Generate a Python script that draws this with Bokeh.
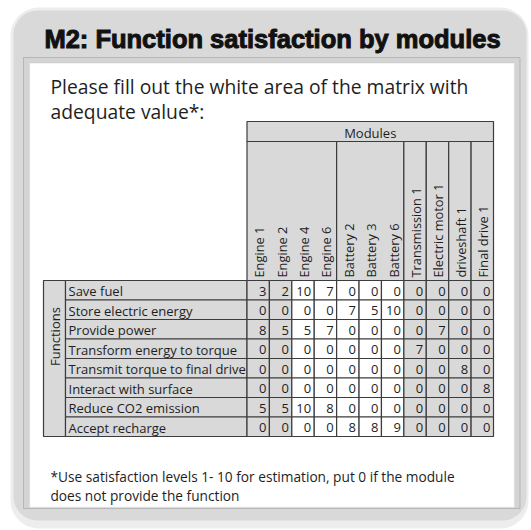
import math
from bokeh.plotting import figure
from bokeh.models import Range1d, BoxAnnotation, ColumnDataSource
from bokeh.core.properties import value
from bokeh.embed import file_html
from bokeh.resources import INLINE

# ---------------- data ----------------
title = "M2: Function satisfaction by modules"
intro_lines = ["Please fill out the white area of the matrix with", "adequate value*:"]
footnote_lines = ["*Use satisfaction levels 1- 10 for estimation, put 0 if the module",
                  "does not provide the function"]
col_group_title = "Modules"
row_group_title = "Functions"

modules = ["Engine 1", "Engine 2", "Engine 4", "Engine 6", "Battery 2", "Battery 3",
           "Battery 6", "Transmission 1", "Electric motor 1", "driveshaft 1", "Final drive 1"]
module_group_spans = [4, 3, 1, 1, 1, 1]
white_modules = ["Engine 4", "Engine 6", "Battery 2", "Battery 3", "Battery 6"]

functions = ["Save fuel", "Store electric energy", "Provide power", "Transform energy to torque",
             "Transmit torque to final drive", "Interact with surface", "Reduce CO2 emission",
             "Accept recharge"]

save_fuel = [3, 2, 10, 7, 0, 0, 0, 0, 0, 0, 0]
store_electric_energy = [0, 0, 0, 0, 7, 5, 10, 0, 0, 0, 0]
provide_power = [8, 5, 5, 7, 0, 0, 0, 0, 7, 0, 0]
transform_energy_to_torque = [0, 0, 0, 0, 0, 0, 0, 7, 0, 0, 0]
transmit_torque = [0, 0, 0, 0, 0, 0, 0, 0, 0, 8, 0]
interact_with_surface = [0, 0, 0, 0, 0, 0, 0, 0, 0, 0, 8]
reduce_co2 = [5, 5, 10, 8, 0, 0, 0, 0, 0, 0, 0]
accept_recharge = [0, 0, 0, 0, 8, 8, 9, 0, 0, 0, 0]
matrix = [save_fuel, store_electric_energy, provide_power, transform_energy_to_torque,
          transmit_torque, interact_with_surface, reduce_co2, accept_recharge]

# ---------------- layout (page pixel coordinates) ----------------
FONT = value("Open Sans")
GRAY = "#d9d9d9"
EDGE = "#3c3c3c"
TXT = "#1e1e1e"
FX0, FX1 = 43, 65          # "Functions" column
LX1 = 246.5                # end of label column
DX1 = 493                  # end of data columns
CW = (DX1 - LX1) / len(modules)
HY0, HY1 = 121, 141        # "Modules" header row
RY0, RH = 280, 19.5        # first data row, row height
W, H = 531, 530

p = figure(width=W, height=H, x_range=Range1d(0, W), y_range=Range1d(H, 0),
           output_backend="svg", toolbar_location=None, min_border=0)
p.axis.visible = False
p.grid.visible = False
p.outline_line_color = None
p.background_fill_color = "white"
p.border_fill_color = "white"

# slide frame
p.add_layout(BoxAnnotation(left=10, right=528, top=7, bottom=528, fill_color="#ededed", fill_alpha=1,
                           line_color=None, border_radius=28, level="underlay"))
p.add_layout(BoxAnnotation(left=13, right=526, top=10, bottom=520, fill_color=GRAY, fill_alpha=1,
                           line_color=None, border_radius=24, level="underlay"))
p.add_layout(BoxAnnotation(left=23, right=519.5, top=57, bottom=508, fill_color="#d4d4d4", fill_alpha=1,
                           line_color="#6e6e6e", line_width=1, level="underlay"))
p.add_layout(BoxAnnotation(left=29, right=514, top=62.5, bottom=507, fill_color="white", fill_alpha=1,
                           line_color="#c8c8c8", line_width=1.5, level="underlay"))

p.text(x=[272], y=[38], text=[title], text_font=value("Liberation Sans"), text_font_style="bold",
       text_font_size="25.5px", text_align="center", text_baseline="middle", text_color="#111111",
       text_outline_color="#111111")

p.text(x=[50, 50], y=[86, 111], text=intro_lines, text_font=FONT, text_font_size="19.3px",
       text_align="left", text_baseline="middle", text_color=TXT)
p.text(x=[50, 50], y=[476, 495], text=footnote_lines, text_font=FONT, text_font_size="13.7px",
       text_align="left", text_baseline="middle", text_color=TXT)

# header: Modules row and module-name area
p.quad(left=[LX1], right=[DX1], top=[HY0], bottom=[HY1], fill_color=GRAY, line_color=EDGE, line_width=1.2)
p.text(x=[(LX1 + DX1) / 2], y=[(HY0 + HY1) / 2 + 1], text=[col_group_title], text_font=FONT,
       text_font_size="13px", text_align="center", text_baseline="middle", text_color=TXT)
g_left, g_right = [], []
start = 0
for span in module_group_spans:
    g_left.append(LX1 + start * CW)
    g_right.append(LX1 + (start + span) * CW)
    start += span
p.quad(left=g_left, right=g_right, top=[HY1] * len(g_left), bottom=[RY0] * len(g_left),
       fill_color=GRAY, line_color=EDGE, line_width=1.2)
mod_x = [LX1 + (j + 0.5) * CW + 1 for j in range(len(modules))]
p.text(x=mod_x, y=[RY0 - 3] * len(modules), text=modules, angle=math.pi / 2, text_font=FONT,
       text_font_size="12.8px", text_align="left", text_baseline="middle", text_color=TXT)

# row header
n = len(functions)
p.quad(left=[FX0], right=[FX1], top=[RY0], bottom=[RY0 + n * RH], fill_color=GRAY,
       line_color=EDGE, line_width=1.2)
p.text(x=[(FX0 + FX1) / 2], y=[336], text=[row_group_title], angle=math.pi / 2, text_font=FONT,
       text_font_size="13px", text_align="center", text_baseline="middle", text_color=TXT)
rtop = [RY0 + i * RH for i in range(n)]
p.quad(left=[FX1] * n, right=[LX1] * n, top=rtop, bottom=[t + RH for t in rtop],
       fill_color=GRAY, line_color=EDGE, line_width=1.2)
p.text(x=[FX1 + 3] * n, y=[t + RH / 2 + 1 for t in rtop], text=functions, text_font=FONT,
       text_font_size="13px", text_align="left", text_baseline="middle", text_color=TXT)

# matrix cells
cells = dict(left=[], right=[], top=[], bottom=[], fill=[], tx=[], ty=[], label=[])
for i, row in enumerate(matrix):
    for j, v in enumerate(row):
        l = LX1 + j * CW
        t = RY0 + i * RH
        cells["left"].append(l)
        cells["right"].append(l + CW)
        cells["top"].append(t)
        cells["bottom"].append(t + RH)
        cells["fill"].append("white" if modules[j] in white_modules else GRAY)
        cells["tx"].append(l + CW - 3)
        cells["ty"].append(t + RH / 2 + 1)
        cells["label"].append(str(v))
src = ColumnDataSource(cells)
p.quad(left="left", right="right", top="top", bottom="bottom", fill_color="fill", line_color=EDGE,
       line_width=1.2, source=src)
p.text(x="tx", y="ty", text="label", source=src, text_font=FONT, text_font_size="13px",
       text_align="right", text_baseline="middle", text_color=TXT)

open("out.html", "w").write(file_html(p, INLINE))
